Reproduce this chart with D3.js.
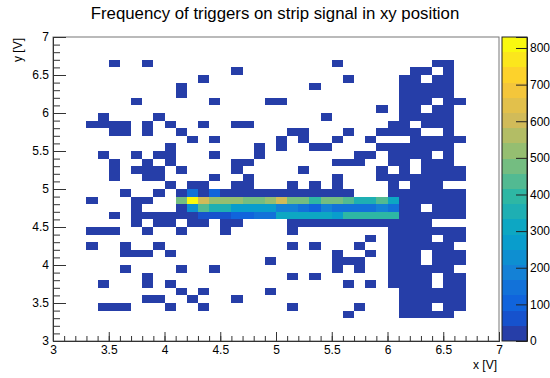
<!DOCTYPE html>
<html>
<head>
<meta charset="utf-8">
<script src="https://cdn.jsdelivr.net/npm/d3@7"></script>
<style>
  body { margin: 0; background: #fff; }
  svg { display: block; }
  text { font-family: "Liberation Sans", Arial, Helvetica, sans-serif; fill: #000; }
</style>
</head>
<body>
<svg id="chart" width="550" height="378"></svg>
<script>
// Histogram binning (V)
const xRange = [3, 7];
const yRange = [3, 7];
const nBinsX = 40;
const nBinsY = 40;

// Axis tick labels
const xTickValues = [3, 3.5, 4, 4.5, 5, 5.5, 6, 6.5, 7];
const yTickValues = [3, 3.5, 4, 4.5, 5, 5.5, 6, 6.5, 7];
const zTickValues = [0, 100, 200, 300, 400, 500, 600, 700, 800];

// Trigger counts per bin; rows run from the top y bin (6.9-7.0 V) down to 3.0-3.1 V,
// columns from x = 3.0 V to 7.0 V in 0.1 V steps.
const counts = [
  [0,0,0,0,0,0,0,0,0,0, 0,0,0,0,0,0,0,0,0,0, 0,0,0,0,0,0,0,0,0,0, 0,0,0,0,0,0,0,0,0,0],
  [0,0,0,0,0,0,0,0,0,0, 0,0,0,0,0,0,0,0,0,0, 0,0,0,0,0,0,0,0,0,0, 0,0,0,0,0,0,0,0,0,0],
  [0,0,0,0,0,0,0,0,0,0, 0,0,0,0,0,0,0,0,0,0, 0,0,0,0,0,0,0,0,0,0, 0,0,0,0,0,0,0,0,0,0],
  [0,0,0,0,0,4,0,0,3,0, 0,0,0,0,0,0,0,0,0,0, 0,0,0,0,0,2,0,0,0,0, 0,0,0,0,6,9,0,0,0,0],
  [0,0,0,0,0,0,0,0,0,0, 0,0,0,0,0,0,3,0,0,0, 0,0,0,0,0,0,0,0,0,0, 0,0,8,12,0,7,0,0,0,0],
  [0,0,0,0,0,0,0,0,0,0, 0,0,0,2,0,0,0,0,0,0, 0,0,0,0,0,0,3,0,0,0, 0,10,14,0,11,9,0,0,0,0],
  [0,0,0,0,0,0,0,0,0,0, 0,5,0,0,0,0,0,0,0,0, 0,0,0,3,0,0,0,0,0,0, 0,16,20,13,18,12,0,0,0,0],
  [0,0,0,0,0,0,0,0,0,0, 0,4,0,0,0,0,0,0,0,0, 0,0,0,0,0,0,0,0,0,0, 0,14,22,19,21,15,0,0,0,0],
  [0,0,0,0,0,0,0,3,0,0, 0,0,0,0,4,0,0,0,0,5, 3,0,0,0,0,0,0,0,0,0, 0,17,15,11,0,19,6,0,0,0],
  [0,0,0,0,0,0,0,0,0,0, 0,0,0,0,0,0,0,0,0,0, 0,0,0,0,0,0,0,0,0,4, 0,18,13,0,20,16,0,0,0,0],
  [0,0,0,0,3,0,0,0,0,2, 0,0,0,0,0,0,0,0,0,0, 0,0,0,0,4,0,0,0,0,0, 0,21,17,14,23,18,0,0,0,0],
  [0,0,0,5,4,6,3,0,4,0, 3,0,0,2,0,0,5,3,0,0, 0,0,0,0,0,0,0,0,0,0, 7,19,0,16,24,20,0,0,0,0],
  [0,0,0,0,0,6,4,0,5,0, 0,3,0,0,0,0,0,0,0,0, 0,4,3,0,0,0,2,0,0,9, 12,18,15,0,0,21,0,0,0,0],
  [0,0,0,0,0,0,0,0,0,0, 0,0,4,0,3,0,0,0,0,0, 5,0,2,0,0,4,0,0,6,0, 0,0,17,22,19,25,8,0,0,0],
  [0,0,0,0,0,0,0,0,0,0, 4,0,0,0,0,0,0,0,3,0, 6,0,0,3,5,0,0,0,0,11, 14,20,23,26,18,22,0,0,0,0],
  [0,0,0,0,3,0,0,4,0,5, 6,0,0,0,3,0,0,0,7,0, 0,0,0,0,0,0,0,5,8,0, 13,24,20,17,0,21,0,0,0,0],
  [0,0,0,0,0,5,0,0,6,0, 4,0,0,0,0,0,7,5,0,0, 0,0,0,0,0,3,6,9,0,0, 15,19,0,22,25,18,0,0,0,0],
  [0,0,0,0,0,6,0,4,7,5, 0,3,0,0,0,0,5,0,0,0, 0,0,4,0,0,0,0,0,0,10, 0,21,0,24,27,19,7,0,0,0],
  [0,0,0,0,0,4,0,0,8,6, 0,0,0,0,5,0,0,4,0,0, 0,0,0,0,0,6,0,0,0,12, 16,23,28,25,30,22,9,0,0,0],
  [0,0,0,0,0,0,0,0,0,0, 7,0,9,12,0,0,8,6,0,0, 0,5,0,6,0,8,0,0,0,0, 11,0,20,26,17,0,0,0,0,0],
  [0,0,0,0,0,0,5,0,0,6, 0,18,140,30,95,25,22,28,20,24, 26,21,23,25,19,22,20,0,0,0, 30,24,27,22,25,18,9,0,0,0],
  [0,0,0,7,0,0,0,9,6,0, 0,470,830,590,520,500,510,490,480,500, 600,480,470,400,460,470,450,350,360,450, 330,30,26,24,28,20,12,0,0,0],
  [0,0,0,0,0,0,0,8,0,0, 0,25,240,420,360,340,290,280,270,260, 190,180,140,120,170,160,160,140,160,170, 150,35,29,0,31,22,10,0,0,0],
  [0,0,0,0,0,5,0,12,10,9, 14,28,36,65,70,75,90,100,140,150, 300,310,320,300,310,290,380,390,400,410, 380,33,27,30,26,24,8,0,0,0],
  [0,0,0,0,0,0,0,10,0,8, 7,0,15,18,0,22,26,0,0,0, 0,25,21,23,19,22,24,20,22,27, 30,28,26,24,0,0,0,0,0,0],
  [0,0,0,4,5,3,0,0,6,0, 0,5,0,0,0,4,0,0,0,0, 0,6,0,0,0,0,0,0,0,0, 18,22,20,19,25,17,6,0,0,0],
  [0,0,0,0,0,0,0,0,0,0, 0,0,0,0,0,0,0,0,0,0, 0,0,0,0,0,0,0,0,5,0, 20,24,27,18,0,23,8,0,0,0],
  [0,0,0,4,0,0,5,0,0,3, 0,0,0,0,0,0,0,0,0,0, 0,4,0,3,0,0,0,5,0,0, 19,26,22,24,21,18,0,0,0,0],
  [0,0,0,0,0,0,6,5,4,0, 5,0,0,0,0,0,0,0,0,0, 0,0,0,0,0,4,0,0,6,0, 17,23,25,0,20,22,7,0,0,0],
  [0,0,0,0,0,0,0,0,0,0, 0,0,0,0,0,0,0,0,0,4, 0,0,0,0,0,5,3,6,0,0, 21,24,19,0,26,20,8,0,0,0],
  [0,0,0,0,0,0,4,0,0,0, 0,3,0,0,4,0,0,0,0,0, 0,0,0,0,0,5,0,4,0,0, 18,22,25,20,23,17,0,0,0,0],
  [0,0,0,0,0,0,0,0,5,0, 0,0,0,0,0,0,0,0,0,0, 0,4,0,3,0,0,0,0,0,0, 16,21,24,19,0,22,6,0,0,0],
  [0,0,0,0,4,0,0,0,6,0, 3,0,0,0,0,0,0,0,0,0, 0,0,0,0,0,0,4,0,5,0, 15,20,23,18,0,21,7,0,0,0],
  [0,0,0,0,0,0,0,0,0,0, 0,4,0,3,0,0,0,0,0,5, 0,0,0,0,0,0,0,0,0,0, 0,23,26,21,24,19,6,0,0,0],
  [0,0,0,0,0,0,0,0,5,4, 0,0,3,0,0,0,4,0,0,0, 0,0,0,0,0,0,0,0,0,0, 0,25,28,22,26,20,8,0,0,0],
  [0,0,0,0,4,3,5,0,0,0, 4,0,0,3,0,0,0,0,0,0, 0,5,0,0,0,0,0,4,0,0, 0,22,24,19,0,21,6,0,0,0],
  [0,0,0,0,0,0,0,0,0,0, 0,0,0,0,0,0,0,0,0,0, 0,0,0,0,0,0,3,0,0,0, 0,20,23,18,25,17,0,0,0,0],
  [0,0,0,0,0,0,0,0,0,0, 0,0,0,0,0,0,0,0,0,0, 0,0,0,0,0,0,0,0,0,0, 0,0,0,0,0,0,0,0,0,0],
  [0,0,0,0,0,0,0,0,0,0, 0,0,0,0,0,0,0,0,0,0, 0,0,0,0,0,0,0,0,0,0, 0,0,0,0,0,0,0,0,0,0],
  [0,0,0,0,0,0,0,0,0,0, 0,0,0,0,0,0,0,0,0,0, 0,0,0,0,0,0,0,0,0,0, 0,0,0,0,0,0,0,0,0,0]
];

// ---- palette: "bird" gradient, 255 colours, 20 contour levels ----
const birdStops = [0.0000, 0.1250, 0.2500, 0.3750, 0.5000, 0.6250, 0.7500, 0.8750, 1.0000];
const birdRed   = [0.2082, 0.0592, 0.0780, 0.0232, 0.1802, 0.5301, 0.8186, 0.9956, 0.9764];
const birdGreen = [0.1664, 0.3599, 0.5041, 0.6419, 0.7178, 0.7492, 0.7328, 0.7862, 0.9832];
const birdBlue  = [0.5293, 0.8684, 0.8385, 0.7914, 0.6425, 0.4662, 0.3499, 0.1968, 0.0539];
const nColors = 255;
const nLevels = 20;

const palette = [];
for (let g = 1; g < birdStops.length; g++) {
  const n = Math.floor(nColors * birdStops[g]) - Math.floor(nColors * birdStops[g - 1]);
  for (let c = 0; c < n; c++) {
    const f = c / n;
    palette.push(d3.rgb(
      255 * (birdRed[g - 1] + f * (birdRed[g] - birdRed[g - 1])),
      255 * (birdGreen[g - 1] + f * (birdGreen[g] - birdGreen[g - 1])),
      255 * (birdBlue[g - 1] + f * (birdBlue[g] - birdBlue[g - 1]))
    ).formatHex());
  }
}
const levelColor = lvl => palette[Math.floor((lvl + 0.99) * nColors / nLevels)];

const zMax = d3.max(counts, row => d3.max(row));
const zMin = 0;
const binLevel = v => Math.min(nLevels - 1, Math.floor(0.01 + (v - zMin) * nLevels / (zMax - zMin)));

// ---- layout ----
const frame = { left: 53, right: 499, top: 37, bottom: 341 };
const svg = d3.select("#chart");

const x = d3.scaleLinear().domain(xRange).range([frame.left, frame.right]);
const y = d3.scaleLinear().domain(yRange).range([frame.bottom, frame.top]);
const z = d3.scaleLinear().domain([zMin, zMax]).range([frame.bottom, frame.top]);

const dx = (xRange[1] - xRange[0]) / nBinsX;
const dy = (yRange[1] - yRange[0]) / nBinsY;

// flatten non-empty bins
const cells = [];
counts.forEach((row, r) => {
  row.forEach((v, c) => {
    if (v > 0) cells.push({ x0: xRange[0] + c * dx, y1: yRange[1] - r * dy, v });
  });
});

svg.append("g")
  .attr("shape-rendering", "crispEdges")
  .selectAll("rect")
  .data(cells)
  .join("rect")
  .attr("x", d => x(d.x0))
  .attr("y", d => y(d.y1))
  .attr("width", d => x(d.x0 + dx) - x(d.x0))
  .attr("height", d => y(d.y1 - dy) - y(d.y1))
  .attr("fill", d => levelColor(binLevel(d.v)));

// frame
svg.append("rect")
  .attr("x", frame.left).attr("y", frame.top)
  .attr("width", frame.right - frame.left).attr("height", frame.bottom - frame.top)
  .attr("fill", "none").attr("stroke", "#777").attr("stroke-width", 1);

// ---- axes (ticks drawn inside the frame) ----
const minorX = d3.range(0, nBinsX + 1).map(i => xRange[0] + i * dx);
const minorY = d3.range(0, nBinsY + 1).map(i => yRange[0] + i * dy);

const xMinorAxis = svg.append("g")
  .attr("transform", `translate(0,${frame.bottom})`)
  .call(d3.axisBottom(x).tickValues(minorX).tickSize(-5).tickFormat(""));
const xAxis = svg.append("g")
  .attr("transform", `translate(0,${frame.bottom})`)
  .call(d3.axisBottom(x).tickValues(xTickValues).tickSize(-9).tickPadding(4).tickFormat(d3.format("~g")));

const yMinorAxis = svg.append("g")
  .attr("transform", `translate(${frame.left},0)`)
  .call(d3.axisLeft(y).tickValues(minorY).tickSize(-7).tickFormat(""));
const yAxis = svg.append("g")
  .attr("transform", `translate(${frame.left},0)`)
  .call(d3.axisLeft(y).tickValues(yTickValues).tickSize(-13).tickPadding(4).tickFormat(d3.format("~g")));

[xMinorAxis, xAxis, yMinorAxis, yAxis].forEach(g => {
  g.select(".domain").attr("stroke", "#333");
  g.selectAll(".tick line").attr("stroke", "#333");
});
xAxis.selectAll(".tick text").attr("font-size", 12).attr("dy", "0.75em");
yAxis.selectAll(".tick text").attr("font-size", 12);

// axis titles
svg.append("text")
  .attr("x", frame.right - 2).attr("y", 369)
  .attr("text-anchor", "end").attr("font-size", 12)
  .text("x [V]");
svg.append("text")
  .attr("transform", `translate(22,${frame.top + 1}) rotate(-90)`)
  .attr("text-anchor", "end").attr("font-size", 12)
  .text("y [V]");

// title
svg.append("text")
  .attr("x", 275).attr("y", 19)
  .attr("text-anchor", "middle").attr("font-size", 16.8)
  .text("Frequency of triggers on strip signal in xy position");

// ---- colour scale ----
const bar = { left: 502, right: 527 };
const bandEdges = d3.range(0, nLevels).map(i => ({ lo: zMin + i * (zMax - zMin) / nLevels, hi: zMin + (i + 1) * (zMax - zMin) / nLevels, i }));
svg.append("g")
  .attr("shape-rendering", "crispEdges")
  .selectAll("rect")
  .data(bandEdges)
  .join("rect")
  .attr("x", bar.left).attr("width", bar.right - bar.left)
  .attr("y", d => z(d.hi)).attr("height", d => z(d.lo) - z(d.hi))
  .attr("fill", d => levelColor(d.i));
svg.append("rect")
  .attr("x", bar.left).attr("y", frame.top)
  .attr("width", bar.right - bar.left).attr("height", frame.bottom - frame.top)
  .attr("fill", "none").attr("stroke", "#222").attr("stroke-width", 1);

const zAxis = svg.append("g")
  .attr("transform", `translate(${bar.right},0)`)
  .call(d3.axisRight(z).tickValues(zTickValues).tickSize(-11).tickPadding(3).tickFormat(d3.format("d")));
zAxis.select(".domain").attr("stroke", "#222");
zAxis.selectAll(".tick line").attr("stroke", "#222");
zAxis.selectAll(".tick text").attr("font-size", 12);
</script>
</body>
</html>
